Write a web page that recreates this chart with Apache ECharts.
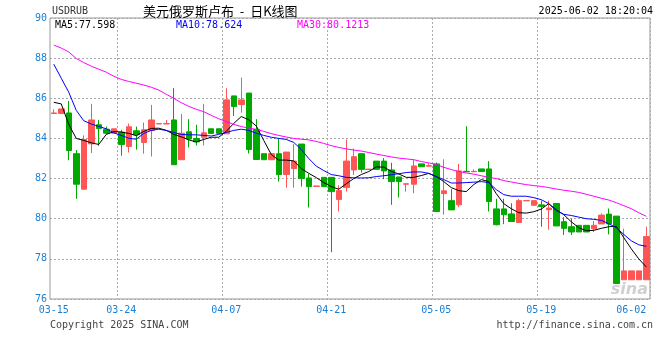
<!DOCTYPE html>
<html><head><meta charset="utf-8">
<script src="https://cdn.jsdelivr.net/npm/echarts@6/dist/echarts.min.js"></script>
<style>html,body{margin:0;padding:0;background:#fff}#c{width:660px;height:360px}</style>
</head><body><div id="c"></div>
<script>
const dates = ['03-15','03-16','03-17','03-18','03-19','03-20','03-21','03-22','03-23','03-24','03-25','03-26','03-27','03-28','03-29','03-30','03-31',
'04-01','04-02','04-03','04-04','04-05','04-06','04-07','04-08','04-09','04-10','04-11','04-12','04-13','04-14','04-15','04-16','04-17','04-18','04-19','04-20','04-21','04-22','04-23','04-24','04-25','04-26','04-27','04-28','04-29','04-30',
'05-01','05-02','05-03','05-04','05-05','05-06','05-07','05-08','05-09','05-10','05-11','05-12','05-13','05-14','05-15','05-16','05-17','05-18','05-19','05-20','05-21','05-22','05-23','05-24','05-25','05-26','05-27','05-28','05-29','05-30','05-31',
'06-01','06-02'];
const opens = [85.24,85.24,85.27,83.24,81.47,83.73,84.68,84.46,84.26,84.31,83.60,84.38,83.80,84.40,84.72,84.72,84.92,82.94,84.33,84.00,
84.06,84.48,84.48,84.23,86.12,85.69,86.26,84.45,83.24,82.94,83.24,82.20,82.50,83.72,82.03,81.61,82.06,82.06,80.96,81.55,
82.43,83.24,82.45,82.87,82.87,82.43,82.08,81.72,81.72,82.73,82.62,82.73,81.25,80.90,80.69,82.36,82.34,82.48,82.48,80.49,
80.49,80.24,79.81,80.89,80.67,80.69,80.45,80.76,79.85,79.60,79.67,79.67,79.50,79.74,80.23,80.13,76.96,76.96,76.96,76.96];
const closes = [85.27,85.47,83.40,81.72,83.95,84.92,84.49,84.26,84.48,83.70,84.58,84.18,84.43,84.92,84.74,84.74,82.69,84.26,83.97,83.83,
84.28,84.25,84.25,85.92,85.59,85.92,83.45,82.95,82.94,83.24,82.20,83.32,82.87,82.00,81.60,81.63,81.60,81.35,81.40,82.87,
83.09,82.46,82.47,82.46,82.38,81.85,81.85,81.74,82.63,82.59,82.64,80.36,81.39,80.44,82.38,82.34,82.36,82.35,80.86,79.70,
80.20,79.86,80.90,80.91,80.90,80.61,80.53,79.64,79.52,79.34,79.34,79.34,79.67,80.18,79.74,76.77,77.40,77.40,77.40,79.11];
const lows = [85.24,85.24,82.91,80.99,81.47,83.27,83.63,84.20,84.26,83.14,83.30,83.44,83.24,83.10,84.72,84.72,82.69,82.94,83.55,83.65,
83.65,84.25,84.25,84.23,85.12,85.29,83.25,82.95,82.94,82.94,81.85,81.55,81.55,81.60,80.56,81.61,81.60,78.33,80.36,81.35,
82.18,82.30,82.45,82.46,81.97,80.69,81.06,81.35,81.27,82.59,82.62,80.36,80.20,80.44,80.58,82.34,82.34,82.35,80.36,79.67,
79.73,79.86,79.81,80.89,80.67,79.60,79.45,79.64,79.19,79.19,79.34,79.34,79.34,79.74,79.22,76.77,76.96,76.96,76.96,76.96];
const highs = [85.45,85.47,85.87,83.42,84.15,85.72,84.92,84.59,84.48,84.43,84.74,84.59,84.79,85.67,84.74,84.92,86.51,85.22,84.96,84.68,
85.72,84.48,84.48,86.50,86.12,87.03,86.26,84.96,83.24,83.24,84.00,83.32,83.72,83.72,82.23,81.63,82.06,82.06,81.67,83.95,
83.50,83.24,82.47,82.87,83.02,82.79,82.08,81.74,82.96,82.73,82.76,82.80,82.96,81.47,82.73,84.61,82.46,82.48,82.87,80.99,
80.99,80.77,80.99,80.91,80.90,80.90,80.90,80.76,80.08,80.00,79.67,79.67,79.88,80.26,80.51,80.13,79.50,77.40,77.40,79.60];
const ma5 = [85.80,85.72,84.70,84.00,83.90,83.78,83.70,84.20,84.34,84.32,84.25,84.14,84.35,84.50,84.51,84.40,84.20,84.08,83.93,83.82,
83.95,84.06,84.06,84.35,84.75,85.09,84.93,84.62,83.90,83.20,82.92,82.92,82.88,82.50,82.26,82.05,81.80,81.60,81.47,81.74,
82.00,82.20,82.35,82.58,82.57,82.36,82.23,82.06,82.06,82.15,82.26,82.10,81.85,81.55,81.40,81.35,81.70,81.95,81.85,81.25,
80.75,80.50,80.30,80.28,80.35,80.48,80.75,80.45,80.20,79.85,79.55,79.40,79.42,79.52,79.60,79.62,79.06,78.50,78.00,77.598];
const ma10 = [87.70,87.00,86.30,85.40,84.88,84.72,84.60,84.48,84.28,84.15,84.01,83.96,84.25,84.40,84.46,84.40,84.30,84.20,84.18,84.18,
84.15,84.12,84.20,84.30,84.40,84.46,84.40,84.26,84.15,84.06,84.00,83.95,83.80,83.45,83.00,82.62,82.40,82.20,82.14,82.06,
82.04,82.03,82.04,82.10,82.14,82.19,82.24,82.30,82.33,82.33,82.26,82.10,81.95,81.78,81.78,81.80,81.82,81.85,81.80,81.45,
81.20,81.12,81.12,81.12,81.05,80.95,80.75,80.40,80.22,80.16,80.08,80.00,79.97,79.92,79.75,79.55,79.22,78.90,78.70,78.624];
const ma30 = [88.65,88.50,88.31,87.98,87.78,87.60,87.45,87.30,87.10,86.94,86.84,86.75,86.66,86.55,86.41,86.20,86.00,85.78,85.60,85.45,
85.33,85.15,84.98,84.84,84.70,84.59,84.52,84.45,84.35,84.24,84.15,84.07,84.00,83.96,83.93,83.85,83.75,83.64,83.55,83.48,
83.42,83.37,83.30,83.22,83.15,83.08,83.02,82.98,82.94,82.85,82.78,82.70,82.56,82.45,82.35,82.28,82.22,82.14,82.06,82.00,
81.90,81.83,81.76,81.70,81.65,81.61,81.55,81.48,81.42,81.37,81.31,81.22,81.12,81.02,80.93,80.80,80.65,80.50,80.30,80.12];
const xLabelDates = ['03-15','03-24','04-07','04-21','05-05','05-19','06-02'];
const xGridDates = ['03-24','04-07','04-21','05-05','05-19'];
const yMin = 76, yMax = 90, yStep = 2;
const maLabels = ['MA5:77.598','MA10:78.624','MA30:80.1213'];

const kData = dates.map((d,i)=>[opens[i],closes[i],lows[i],highs[i]]);
const mono = '"DejaVu Sans Mono", monospace';
const chart = echarts.init(document.getElementById('c'), null, {renderer:'canvas'});
const lastIdx = dates.length-1;
chart.setOption({
  animation:false,
  backgroundColor:'#fff',
  grid:{left:50,right:10,top:18,bottom:61,show:true,borderColor:'#999',borderWidth:1},
  xAxis:{type:'category',data:dates,boundaryGap:true,
    axisLine:{show:false},axisTick:{show:false},
    axisLabel:{color:'#1a7fd4',fontFamily:mono,fontSize:10,margin:6,
      interval:(i,v)=>xLabelDates.includes(v),
      alignMaxLabel:'right'},
    splitLine:{show:true,interval:(i,v)=>xGridDates.includes(v),lineStyle:{color:'#aaa',type:[2,2],width:1}}},
  yAxis:{type:'value',min:yMin,max:yMax,interval:yStep,
    axisLine:{show:false},axisTick:{show:false},
    axisLabel:{color:'#1a7fd4',fontFamily:mono,fontSize:10,margin:3},
    splitLine:{show:true,lineStyle:{color:'#aaa',type:[2,2],width:1}}},
  series:[
    {type:'candlestick',data:kData,barWidth:6,
      itemStyle:{color:'#ff5555',color0:'#00a800',borderColor:'#ff5555',borderColor0:'#00a800',borderWidth:1}},
    {type:'line',data:ma5,showSymbol:false,lineStyle:{color:'#000',width:1},silent:true},
    {type:'line',data:ma10,showSymbol:false,lineStyle:{color:'#0000ff',width:1},silent:true},
    {type:'line',data:ma30,showSymbol:false,lineStyle:{color:'#ff00ff',width:1},silent:true}
  ],
  graphic:[
    {type:'text',left:52,top:6,style:{text:'USDRUB',font:'10px '+mono,fill:'#333'}},
    {type:'text',left:143,top:5,style:{text:'美元俄罗斯卢布  -  日K线图',font:'13px "Noto Sans CJK SC"',fill:'#000'}},
    {type:'text',right:7,top:6,style:{text:'2025-06-02 18:20:04',font:'10px '+mono,fill:'#000'}},
    {type:'text',left:55,top:20,style:{text:maLabels[0],font:'10px '+mono,fill:'#000'}},
    {type:'text',left:176,top:20,style:{text:maLabels[1],font:'10px '+mono,fill:'#0000ff'}},
    {type:'text',left:297,top:20,style:{text:maLabels[2],font:'10px '+mono,fill:'#ff00ff'}},
    {type:'text',left:50,top:320,style:{text:'Copyright 2025 SINA.COM',font:'10px '+mono,fill:'#444'}},
    {type:'text',right:7,top:320,style:{text:'http://finance.sina.com.cn',font:'10px '+mono,fill:'#444'}},
    {type:'text',right:12,top:282,style:{text:'sina',font:'italic bold 16px "DejaVu Sans"',fill:'#d0d0d0'}}
  ]
});
</script></body></html>
